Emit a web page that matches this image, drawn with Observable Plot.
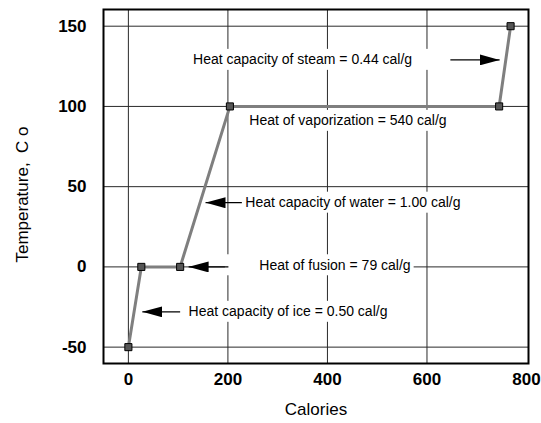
<!DOCTYPE html>
<html><head><meta charset="utf-8">
<script src="https://cdn.jsdelivr.net/npm/d3@7"></script>
<script src="https://cdn.jsdelivr.net/npm/@observablehq/plot@0.6"></script>
<style>
body{margin:0;background:#fff}
g[aria-label="x-axis tick label"] text, g[aria-label="y-axis tick label"] text,
g[aria-label="x-axis tick label"], g[aria-label="y-axis tick label"]{font-weight:bold;font-size:17px}
</style>
</head><body><div id="chart"></div>
<script>
const calories = [0, 26, 104, 204, 745, 768];
const temperature = [-50, 0, 0, 100, 100, 150];
const xTicks = [0, 200, 400, 600, 800];
const yTicks = [-50, 0, 50, 100, 150];
const xGrid = [0, 200, 400, 600];
const labelText = [
  "Heat capacity of steam = 0.44 cal/g",
  "Heat of vaporization = 540 cal/g",
  "Heat capacity of water = 1.00 cal/g",
  "Heat of fusion = 79 cal/g",
  "Heat capacity of ice = 0.50 cal/g"
];
const labelX = [130, 243, 235, 263, 121];
const labelY = [129, 91, 40, 1, -28];
const arrowTailX = [647, 228, 201, 104];
const arrowHeadX = [746, 155, 121, 28];
const arrowY = [129, 40, 0, -28];
const arrowLabel = [0, 2, 3, 4];
const xTitle = "Calories";
const yTitle = "Temperature,\u00a0\u00a0C\u00a0o";

const points = calories.map((c, i) => ({c, t: temperature[i]}));
const labels = labelText.map((s, i) => ({s, x: labelX[i], y: labelY[i]}));
const arrows = arrowTailX.map((x1, i) => ({x1, x2: arrowHeadX[i], y: arrowY[i], label: arrowLabel[i]}));

const font = "'Liberation Sans', Arial, Helvetica, sans-serif";
const svg = Plot.plot({
  width: 541, height: 423,
  marginLeft: 103, marginRight: 13, marginTop: 9, marginBottom: 60,
  style: {fontFamily: font, fontSize: "14px", color: "black", background: "white"},
  x: {domain: [-50, 804]},
  y: {domain: [-60.2, 160.4]},
  marks: [
    Plot.ruleY(yTicks, {stroke: "#2a2a2a", strokeWidth: 1}),
    Plot.ruleX(xGrid, {stroke: "#2a2a2a", strokeWidth: 1}),
    Plot.frame({stroke: "black", strokeWidth: 2}),
    Plot.axisX(xTicks, {tickSize: 0, tickPadding: 9, fontSize: 17, fontWeight: "bold", label: null, tickFormat: d => String(d)}),
    Plot.axisY(yTicks, {tickSize: 0, tickPadding: 17, fontSize: 17, fontWeight: "bold", label: null, tickFormat: d => String(d)}),
    Plot.line(points, {x: "c", y: "t", stroke: "#7f7f7f", strokeWidth: 3}),
    Plot.dot(points, {x: "c", y: "t", symbol: "square", r: 4, fill: "#555", stroke: "black", strokeWidth: 1}),
    Plot.link(arrows, {x1: "x1", x2: "x2", y1: "y", y2: "y", stroke: "black", strokeWidth: 1.2}),
    Plot.text(labels, {x: "x", y: "y", text: "s", textAnchor: "start", fontSize: 14, fill: "black"}),
    Plot.text([xTitle], {text: d => d, frameAnchor: "bottom", dy: 51, fontSize: 17, fill: "black"}),
    Plot.text([yTitle], {text: d => d, frameAnchor: "left", textAnchor: "middle", dx: -81, dy: 8, rotate: -90, fontSize: 17, fill: "black"})
  ]
});
document.getElementById("chart").appendChild(svg);

// arrowheads
const ns = "http://www.w3.org/2000/svg";
const defs = document.createElementNS(ns, "defs");
const marker = document.createElementNS(ns, "marker");
marker.setAttribute("id", "ahead");
marker.setAttribute("viewBox", "0 0 20 11");
marker.setAttribute("refX", "20");
marker.setAttribute("refY", "5.5");
marker.setAttribute("markerWidth", "20");
marker.setAttribute("markerHeight", "11");
marker.setAttribute("markerUnits", "userSpaceOnUse");
marker.setAttribute("orient", "auto");
const mp = document.createElementNS(ns, "path");
mp.setAttribute("d", "M0,0L20,5.5L0,11Z");
mp.setAttribute("fill", "black");
marker.appendChild(mp);
defs.appendChild(marker);
svg.insertBefore(defs, svg.firstChild);
svg.querySelectorAll('g[aria-label="link"] path').forEach(p => p.setAttribute("marker-end", "url(#ahead)"));

// white boxes behind annotations
const sr = svg.getBoundingClientRect();
const textGroups = svg.querySelectorAll('g[aria-label="text"]');
const texts = textGroups.length ? textGroups[0].querySelectorAll("text") : [];
const boxG = document.createElementNS(ns, "g");
const xs = d3.scaleLinear().domain([-50, 804]).range([103, 528]);
texts.forEach((t, i) => {
  const b = t.getBoundingClientRect();
  let x0 = b.left - sr.left - 3, x1 = b.right - sr.left + 3;
  const cy = (b.top + b.bottom) / 2 - sr.top;
  arrows.forEach(a => {
    if (a.label === i) {
      const tx = xs(a.x1);
      x0 = Math.min(x0, tx - 3);
      x1 = Math.max(x1, tx + 3);
    }
  });
  const r = document.createElementNS(ns, "rect");
  r.setAttribute("x", x0); r.setAttribute("width", x1 - x0);
  r.setAttribute("y", cy - 10.5); r.setAttribute("height", 21);
  r.setAttribute("fill", "white");
  boxG.appendChild(r);
});
const frameEl = svg.querySelector('[aria-label="frame"]');
if (frameEl && frameEl.parentNode === svg) svg.insertBefore(boxG, frameEl);
else {
  const rules = svg.querySelectorAll('g[aria-label="rule"]');
  const last = rules[rules.length - 1];
  svg.insertBefore(boxG, last.nextSibling);
}
</script>
</body></html>
